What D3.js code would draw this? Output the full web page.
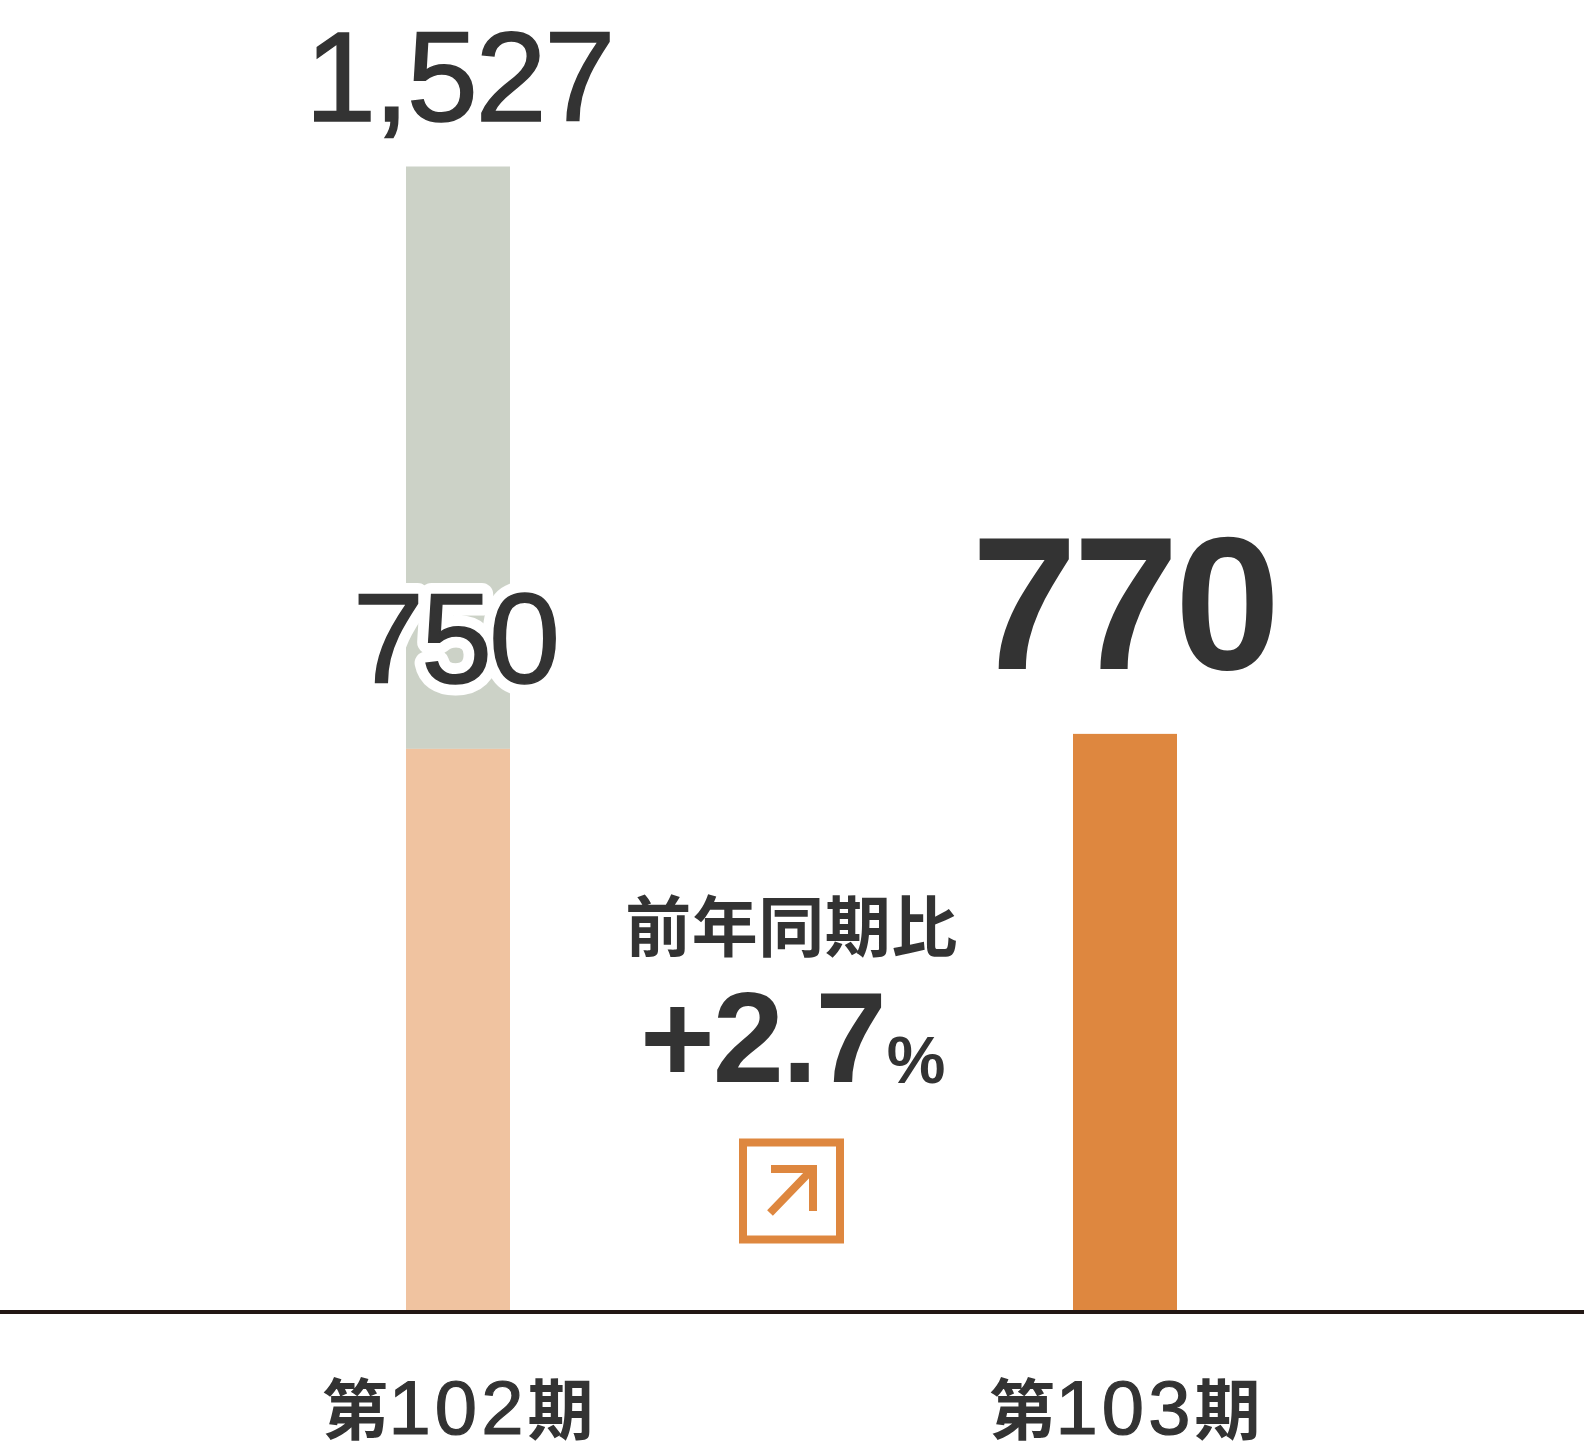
<!DOCTYPE html>
<html>
<head>
<meta charset="utf-8">
<script src="https://cdn.jsdelivr.net/npm/d3@7"></script>
<style>
body { margin: 0; background: #fff; }
svg { display: block; }
text { fill: #333; font-family: "Liberation Sans", sans-serif; }
</style>
</head>
<body>
<script>
var periods = ['第102期', '第103期'];
var current = [750, 770];
var previousExtra = [777, 0];
var totalLabels = ['1,527', ''];
var currentLabels = ['750', '770'];
var compareTitle = '前年同期比';
var compareValue = '+2.7';
var compareUnit = '%';

var width = 1584, height = 1446;
var cjk = '"Noto Sans CJK JP", sans-serif';
var svg = d3.select('body').append('svg').attr('width', width).attr('height', height);

var x = d3.scalePoint().domain(periods).range([458, 1125]);
var y = d3.scaleLinear().domain([0, 1527]).range([1311, 166.5]);
var barW = 104;

// bottom part of first bar is lighter than the second one
svg.selectAll('.extra').data(periods).enter().append('rect')
	.attr('x', function(d){ return x(d) - barW/2; })
	.attr('y', function(d,i){ return y(current[i] + previousExtra[i]); })
	.attr('width', barW)
	.attr('height', function(d,i){ return y(current[i]) - y(current[i] + previousExtra[i]); })
	.attr('fill', '#ccd2c7');
svg.selectAll('.cur').data(periods).enter().append('rect')
	.attr('x', function(d){ return x(d) - barW/2; })
	.attr('y', function(d,i){ return y(current[i]); })
	.attr('width', barW)
	.attr('height', function(d,i){ return y(0) - y(current[i]); })
	.attr('fill', function(d,i){ return i == 0 ? '#f0c3a0' : '#de873f'; });

/* baseline */
svg.append('line').attr('x1', 0).attr('x2', width).attr('y1', 1312).attr('y2', 1312)
	.style('stroke', '#231815').style('stroke-width', 4);

// value labels
svg.append('text').attr('x', x(periods[0]) + 1).attr('y', 121)
	.attr('text-anchor', 'middle').attr('font-size', 128).style('letter-spacing', '-2.5px')
	.style('stroke', '#333').style('stroke-width', 1.5).text(totalLabels[0]);

// white halo first, then the digits on top
svg.append('text').attr('x', x(periods[0]) - 3).attr('y', 683)
	.attr('text-anchor', 'middle').attr('font-size', 128).style('letter-spacing', '-3px')
	.style('fill', '#fff').style('stroke', '#fff').style('stroke-width', 23).style('stroke-linejoin', 'round')
	.text(currentLabels[0]);
svg.append('text').attr('x', x(periods[0]) - 3).attr('y', 683)
	.attr('text-anchor', 'middle').attr('font-size', 128).style('letter-spacing', '-3px')
	.style('stroke', '#333').style('stroke-width', 1.5)
	.text(currentLabels[0]);

svg.append('text').attr('x', x(periods[1]) - 1).attr('y', 669)
	.attr('text-anchor', 'middle').attr('font-size', 190).attr('font-weight', 'bold').style('letter-spacing', '-4px').text(currentLabels[1]);

// period labels, digits are in the latin font
periods.forEach(function(p){
	var t = svg.append('text').attr('x', x(p)).attr('y', 1434).attr('text-anchor', 'middle');
	p.match(/\d+|\D+/g).forEach(function(part){
		var num = /\d/.test(part);
		t.append('tspan').text(part)
			.attr('font-size', num ? 76 : 66)
			.attr('font-weight', num ? 'normal' : 'bold')
			.style('font-family', num ? '"Liberation Sans", sans-serif' : cjk)
			.style('letter-spacing', num ? '4px' : '0')
			.style('stroke', num ? '#333' : 'none').style('stroke-width', num ? 1.2 : 0);
	});
});

// middle block
var midX = (x(periods[0]) + x(periods[1])) / 2;
svg.append('text').attr('x', midX).attr('y', 950.5).attr('text-anchor', 'middle')
	.attr('font-size', 66).attr('font-weight', 'bold').style('letter-spacing', '0.5px').style('font-family', cjk).text(compareTitle);

var ct = svg.append('text').attr('x', 640).attr('y', 1082).attr('font-weight', 'bold');
ct.append('tspan').attr('font-size', 128).style('letter-spacing', '-2px').text(compareValue);
ct.append('tspan').attr('font-size', 66).attr('dx', 2).attr('dy', 1).text(compareUnit);

var icon = svg.append('g').attr('transform', 'translate(' + midX + ',1189)');
icon.append('rect').attr('x', -48.5).attr('y', -46.5).attr('width', 97).attr('height', 97)
	.attr('fill', 'none').style('stroke', '#de873f').style('stroke-width', 8);
icon.append('path').attr('d', 'M-20.5 -20H21.5V22M21 -20L-21.5 24')
	.attr('fill', 'none').style('stroke', '#de873f').style('stroke-width', 8);
</script>
</body>
</html>
